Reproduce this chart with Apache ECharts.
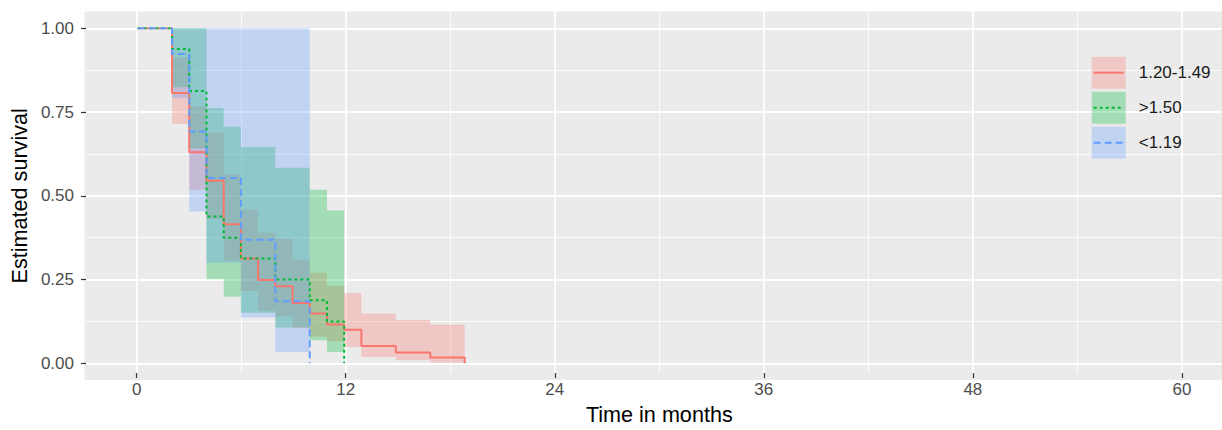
<!DOCTYPE html>
<html>
<head>
<meta charset="utf-8">
<title>Estimated survival by group</title>
<script src="https://cdn.jsdelivr.net/npm/echarts@6/dist/echarts.min.js"></script>
<style>
  html, body { margin: 0; padding: 0; background: #ffffff; }
  #chart { width: 1222px; height: 430px; }
</style>
</head>
<body>
<div id="chart"></div>
<script>
// Strata, in legend order
const groupNames = ['1.20-1.49', '>1.50', '<1.19'];
const groupColors = ['#F8766D', '#00BA38', '#619CFF'];
const ribbonFills = ['rgba(248,118,109,0.3)', 'rgba(0,186,56,0.3)', 'rgba(97,156,255,0.3)'];

// Kaplan-Meier steps: event times (months) and survival after each step
const midTimes = [0, 2, 3, 4, 5, 6, 7, 8, 9, 10, 11, 12, 13, 15, 17, 19];
const midSurv  = [1, 0.807, 0.63, 0.545, 0.415, 0.313, 0.249, 0.23, 0.18, 0.149, 0.116, 0.10, 0.052, 0.032, 0.017, 0];
// 95% band for each step interval (from the 2nd time to the next one)
const midLower = [0.715, 0.518, 0.431, 0.306, 0.216, 0.157, 0.14, 0.105, 0.079, 0.066, 0.049, 0.019, 0.009, 0.002];
const midUpper = [0.912, 0.767, 0.689, 0.564, 0.458, 0.39, 0.372, 0.31, 0.27, 0.231, 0.21, 0.149, 0.129, 0.116];

const highTimes = [0, 2, 3, 4, 5, 6, 8, 10, 11, 12];
const highSurv  = [1, 0.938, 0.813, 0.438, 0.375, 0.313, 0.25, 0.188, 0.125, 0];
const highLower = [0.824, 0.642, 0.251, 0.199, 0.151, 0.107, 0.069, 0.034];
const highUpper = [1, 1, 0.762, 0.706, 0.646, 0.584, 0.518, 0.456];

const lowTimes = [0, 2, 3, 4, 6, 8, 10];
const lowSurv  = [1, 0.923, 0.692, 0.553, 0.369, 0.185, 0];
const lowLower = [0.792, 0.453, 0.30, 0.137, 0.034];
const lowUpper = [1, 1, 1, 1, 1];

// Axis breaks
const timeTicks = [0, 12, 24, 36, 48, 60];
const survTicks = [0, 0.25, 0.5, 0.75, 1];

const groups = [
  { times: midTimes, surv: midSurv, lower: midLower, upper: midUpper },
  { times: highTimes, surv: highSurv, lower: highLower, upper: highUpper },
  { times: lowTimes, surv: lowSurv, lower: lowLower, upper: lowUpper }
];
const lineDash = ['solid', [3, 3], [7, 4]];

// Panel geometry: x runs from -3 to 63 months, y from -0.05 to 1.05
const pxPerMonth = 17.42;
const zeroX = 136.7;
const panelLeft = zeroX - 3 * pxPerMonth;
const panelWidth = 66 * pxPerMonth;
const yOne = 28.3, yZero = 363.3;
const pad = 0.05 * (yZero - yOne);

function ribbonSeries(k) {
  const g = groups[k];
  const data = g.lower.map((lo, i) => [g.times[i + 1], g.times[i + 2], lo, g.upper[i]]);
  return {
    type: 'custom',
    name: groupNames[k],
    xAxisIndex: 0,
    yAxisIndex: 0,
    silent: true,
    z: 1,
    itemStyle: { color: ribbonFills[k] },
    encode: { x: [0, 1], y: [2, 3] },
    data: data,
    renderItem: function (params, api) {
      // the whole band is one step polygon, so it is built once
      if (params.dataIndex !== 0) return null;
      const top = [], bottom = [];
      data.forEach(function (d) {
        top.push(api.coord([d[0], d[3]]), api.coord([d[1], d[3]]));
        bottom.push(api.coord([d[0], d[2]]), api.coord([d[1], d[2]]));
      });
      return {
        type: 'polygon',
        shape: { points: top.concat(bottom.reverse()) },
        style: { fill: ribbonFills[k], stroke: null }
      };
    }
  };
}

function lineSeries(k) {
  const g = groups[k];
  return {
    type: 'line',
    name: groupNames[k],
    xAxisIndex: 0,
    yAxisIndex: 0,
    step: 'end',
    showSymbol: false,
    silent: true,
    z: 3,
    lineStyle: { color: groupColors[k], width: 2, type: lineDash[k] },
    itemStyle: { color: groupColors[k] },
    data: g.times.map((t, i) => [t, g.surv[i]])
  };
}

const chart = echarts.init(document.getElementById('chart'), null, { renderer: 'svg' });

const legendTop = 56.7, legendItem = 32, legendGap = 3, keyLeft = 1091.7;
const keyLines = groupNames.map(function (n, k) {
  const cy = legendTop + legendItem / 2 + k * (legendItem + legendGap);
  return {
    type: 'line',
    z: 100,
    shape: { x1: keyLeft + 2, y1: cy, x2: keyLeft + 32, y2: cy },
    style: { stroke: groupColors[k], lineWidth: 2, lineDash: lineDash[k] === 'solid' ? null : lineDash[k] }
  };
});

chart.setOption({
  animation: false,
  backgroundColor: '#ffffff',
  textStyle: { fontFamily: 'Liberation Sans, Arial, sans-serif' },
  graphic: [
    {
      type: 'rect',
      z: -10,
      silent: true,
      shape: { x: panelLeft, y: yOne - pad, width: panelWidth, height: (yZero - yOne) + 2 * pad },
      style: { fill: '#EBEBEB' }
    }
  ].concat(keyLines),
  grid: [
    { left: panelLeft, top: yOne, width: panelWidth, height: yZero - yOne },
    { left: zeroX, top: yOne - pad, width: 60 * pxPerMonth, height: (yZero - yOne) + 2 * pad }
  ],
  xAxis: [
    { type: 'value', gridIndex: 0, min: -3, max: 63, show: false, axisLine: { onZero: false } },
    {
      type: 'value', gridIndex: 1, min: 0, max: 60, interval: 12, position: 'bottom',
      axisLine: { show: false, onZero: false },
      axisTick: { show: true, length: 5, lineStyle: { color: '#333333', width: 1.2 } },
      axisLabel: {
        fontSize: 17, color: '#4D4D4D', margin: 8,
        customValues: timeTicks,
        formatter: function (v) { return String(v); }
      },
      splitLine: { show: true, lineStyle: { color: '#ffffff', width: 1.8 } },
      minorTick: { show: false, splitNumber: 2 },
      minorSplitLine: { show: true, lineStyle: { color: '#ffffff', width: 0.9 } },
      name: 'Time in months',
      nameLocation: 'middle',
      nameGap: 27,
      nameTextStyle: { fontSize: 21.6, color: '#000000' }
    }
  ],
  yAxis: [
    {
      type: 'value', gridIndex: 0, min: 0, max: 1, interval: 0.25, position: 'left',
      axisLine: { show: false, onZero: false },
      axisTick: { show: true, length: 5, lineStyle: { color: '#333333', width: 1.2 } },
      axisLabel: {
        fontSize: 17, color: '#4D4D4D', margin: 12,
        customValues: survTicks,
        formatter: function (v) { return v.toFixed(2); }
      },
      splitLine: { show: true, lineStyle: { color: '#ffffff', width: 1.8 } },
      minorTick: { show: false, splitNumber: 2 },
      minorSplitLine: { show: true, lineStyle: { color: '#ffffff', width: 0.9 } },
      name: 'Estimated survival',
      nameLocation: 'middle',
      nameGap: 54,
      nameTextStyle: { fontSize: 21.6, color: '#000000' }
    },
    { type: 'value', gridIndex: 1, min: 0, max: 1, show: false, axisLine: { onZero: false } }
  ],
  legend: {
    orient: 'vertical',
    left: keyLeft,
    top: legendTop,
    padding: 0,
    itemGap: legendGap,
    itemWidth: 34,
    itemHeight: legendItem,
    icon: 'rect',
    selectedMode: false,
    data: groupNames,
    textStyle: { fontSize: 17, color: '#1A1A1A', padding: [0, 0, 0, 8] }
  },
  series: [0, 1, 2].map(ribbonSeries).concat([0, 1, 2].map(lineSeries))
});
</script>
</body>
</html>
